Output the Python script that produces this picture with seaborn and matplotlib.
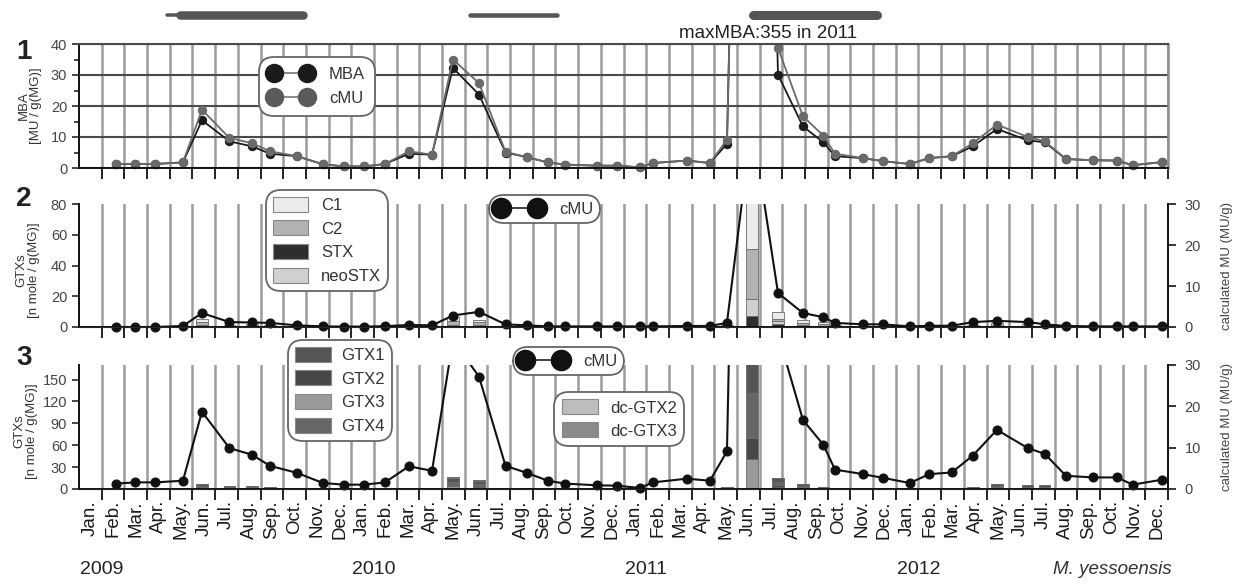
import numpy as np
import seaborn as sns
import matplotlib.pyplot as plt
from matplotlib.lines import Line2D
from matplotlib.patches import Patch
from matplotlib.transforms import Bbox, TransformedBbox, blended_transform_factory

sns.set_style("ticks")
plt.rcParams["font.family"] = ["Liberation Sans", "DejaVu Sans"]

# sampling dates, in months after 1 Jan 2009
sample_month = [1.62, 2.47, 3.35, 4.58, 5.42, 6.63, 7.62, 8.42, 9.61, 10.75, 11.68,
                12.56, 13.49, 14.54, 15.56, 16.48, 17.63, 18.80, 19.74, 20.67, 21.42, 22.83, 23.71,
                24.72, 25.30, 26.80, 27.81, 28.56, 29.66, 30.81, 31.91, 32.81, 33.32, 34.55, 35.43,
                36.62, 37.48, 38.47, 39.40, 40.46, 41.82, 42.57, 43.50, 44.69, 45.75, 46.45, 47.73]

# panel 1: mouse bioassay and calculated MU (MU / g)
mba = [1.3, 1.3, 1.3, 1.8, 15.4, 8.6, 7.0, 4.6, 3.8, 1.2, 0.5,
       0.5, 1.3, 4.6, 4.3, 32.3, 23.7, 5.0, 3.5, 1.8, 1.1, 0.75, 0.75,
       0.2, 1.6, 2.4, 1.6, 7.8, 355, 30.1, 13.4, 8.3, 3.8, 3.2, 2.2,
       1.3, 3.2, 3.8, 7.0, 12.6, 8.9, 8.3, 2.9, 2.5, 2.4, 0.9, 1.9]
cmu_all = [1.3, 1.3, 1.3, 1.8, 18.8, 9.7, 8.0, 5.4, 3.8, 1.2, 0.5,
           0.5, 1.3, 5.4, 4.3, 35.0, 27.4, 5.2, 3.5, 1.8, 1.1, 0.75, 0.75,
           0.2, 1.6, 2.4, 1.6, 9.1, 340, 38.7, 16.7, 10.4, 4.6, 3.2, 2.2,
           1.3, 3.2, 3.8, 8.0, 14.0, 10.0, 8.6, 2.9, 2.5, 2.4, 0.9, 1.9]

# panel 2: C toxins / STX group (n mole / g) and their calculated MU
cmu_stx = [0.0, 0.0, 0.0, 0.25, 3.4, 1.2, 1.1, 1.0, 0.4, 0.15, 0.1,
           0.1, 0.2, 0.5, 0.4, 2.8, 3.7, 0.65, 0.4, 0.15, 0.15, 0.15, 0.15,
           0.15, 0.15, 0.25, 0.25, 1.0, 50, 8.3, 3.4, 2.4, 1.0, 0.65, 0.65,
           0.15, 0.3, 0.3, 1.2, 1.5, 1.2, 0.65, 0.25, 0.15, 0.15, 0.15, 0.15]
c1 = [0.1, 0.1, 0.1, 0.2, 2.4, 0.6, 0.9, 0.7, 0.3, 0.1, 0.1,
      0.1, 0.1, 0.3, 0.3, 2.8, 1.8, 0.4, 0.2, 0.1, 0.1, 0.1, 0.1,
      0.1, 0.1, 0.1, 0.1, 0.6, 35.0, 4.5, 2.0, 1.8, 0.6, 0.4, 0.4,
      0.1, 0.2, 0.2, 0.6, 1.2, 0.8, 0.5, 0.2, 0.1, 0.1, 0.1, 0.1]
c2 = [0, 0, 0, 0.1, 1.8, 0.4, 0.6, 0.5, 0.2, 0, 0,
      0, 0, 0.2, 0.2, 2.4, 2.0, 0.3, 0.1, 0, 0, 0, 0,
      0, 0, 0, 0, 0.4, 32.5, 1.5, 0.9, 0.8, 0.3, 0.2, 0.2,
      0, 0.1, 0.1, 0.4, 0.8, 0.5, 0.3, 0.1, 0, 0, 0, 0]
stx = [0, 0, 0, 0, 0.3, 0.1, 0.1, 0.1, 0, 0, 0,
       0, 0, 0, 0, 0.3, 0.3, 0, 0, 0, 0, 0, 0,
       0, 0, 0, 0, 0.1, 7.0, 2.0, 0.5, 0.3, 0.1, 0, 0,
       0, 0, 0, 0.1, 0.2, 0.1, 0, 0, 0, 0, 0, 0]
neostx = [0, 0, 0, 0, 0.9, 0.2, 0.3, 0.2, 0.1, 0, 0,
          0, 0, 0.1, 0.1, 1.0, 0.7, 0.1, 0, 0, 0, 0, 0,
          0, 0, 0, 0, 0.3, 11.5, 2.0, 1.0, 0.6, 0.2, 0.1, 0.1,
          0, 0, 0, 0.2, 0.4, 0.3, 0.1, 0, 0, 0, 0, 0]

# panel 3: gonyautoxins (n mole / g) and their calculated MU
cmu_gtx = [1.3, 1.6, 1.6, 2.0, 18.7, 9.9, 8.3, 5.6, 3.9, 1.45, 1.05,
           1.05, 1.6, 5.5, 4.4, 36, 27.2, 5.6, 3.9, 2.0, 1.3, 0.9, 0.8,
           0.25, 1.6, 2.5, 2.0, 9.1, 300, 37.5, 16.7, 10.7, 4.7, 3.6, 2.7,
           1.45, 3.6, 4.0, 8.1, 14.3, 9.9, 8.5, 3.2, 2.8, 2.8, 1.05, 2.25]
gtx1 = [0.2, 0.2, 0.2, 0.3, 2.5, 1.8, 1.5, 1.3, 0.6, 0.4, 0.2,
        0.2, 0.2, 0.6, 0.5, 6.0, 4.5, 0.6, 0.4, 0.2, 0.1, 0.1, 0.1,
        0.1, 0.1, 0.2, 0.2, 1.3, 45.0, 5.5, 2.8, 1.1, 0.6, 0.3, 0.3,
        0.1, 0.3, 0.4, 1.3, 2.6, 1.9, 1.9, 0.6, 0.3, 0.2, 0.1, 0.2]
gtx2 = [0.1, 0.1, 0.1, 0.1, 1.0, 0.8, 0.6, 0.6, 0.2, 0.2, 0.1,
        0.1, 0.1, 0.3, 0.2, 2.5, 2.0, 0.3, 0.2, 0.1, 0, 0, 0,
        0, 0, 0.1, 0.1, 0.6, 29.0, 2.5, 1.2, 0.5, 0.3, 0.1, 0.1,
        0, 0.1, 0.2, 0.6, 1.2, 0.8, 0.8, 0.3, 0.1, 0.1, 0, 0.1]
gtx3 = [0.1, 0.1, 0.1, 0.2, 1.5, 1.1, 0.9, 0.8, 0.3, 0.2, 0.1,
        0.1, 0.1, 0.3, 0.3, 3.5, 2.6, 0.3, 0.2, 0.1, 0.1, 0.1, 0.1,
        0.1, 0.1, 0.1, 0.1, 0.8, 41.0, 3.3, 1.6, 0.7, 0.3, 0.2, 0.2,
        0.1, 0.2, 0.2, 0.8, 1.6, 1.1, 1.1, 0.3, 0.2, 0.1, 0.1, 0.1]
gtx4 = [0.1, 0.1, 0.1, 0.2, 1.3, 1.0, 0.8, 0.7, 0.3, 0.2, 0.1,
        0.1, 0.1, 0.3, 0.2, 3.5, 2.5, 0.3, 0.2, 0.1, 0.1, 0.1, 0.1,
        0.1, 0.1, 0.1, 0.1, 0.7, 62.0, 3.2, 1.5, 0.6, 0.3, 0.2, 0.2,
        0.1, 0.2, 0.2, 0.7, 1.4, 1.0, 1.0, 0.3, 0.2, 0.1, 0.1, 0.1]
dcgtx2 = [0, 0, 0, 0, 0.3, 0, 0, 0, 0, 0, 0,
          0, 0, 0, 0, 0.3, 0.2, 0, 0, 0, 0, 0, 0,
          0, 0, 0, 0, 0, 0.5, 0.3, 0.1, 0, 0, 0, 0,
          0, 0, 0, 0, 0.1, 0, 0, 0, 0, 0, 0, 0]
dcgtx3 = [0, 0, 0, 0, 0.2, 0, 0, 0, 0, 0, 0,
          0, 0, 0, 0, 0.2, 0.2, 0, 0, 0, 0, 0, 0,
          0, 0, 0, 0, 0, 0.5, 0.2, 0.1, 0, 0, 0, 0,
          0, 0, 0, 0, 0.1, 0, 0, 0, 0, 0, 0, 0]

month_names = ["Jan.", "Feb.", "Mar.", "Apr.", "May.", "Jun.",
               "Jul.", "Aug.", "Sep.", "Oct.", "Nov.", "Dec."]
years = ["2009", "2010", "2011", "2012"]

# periods marked above panel 1 (start, end month, bar thickness in px)
period_start = [3.88, 4.45, 17.23, 29.7]
period_end = [4.45, 9.87, 21.07, 35.17]
period_px = [3.5, 8.5, 4.5, 9.0]

W, H = 1239, 584
fig = plt.figure(figsize=(W / 100, H / 100), dpi=100)


def px_axes(left, top, right, bottom):
    return fig.add_axes([left / W, 1 - bottom / H, (right - left) / W, (bottom - top) / H])


ax1 = px_axes(79, 44, 1168, 168)
ax2 = px_axes(79, 204, 1168, 327)
ax3 = px_axes(79, 365, 1168, 489)
ax_top = px_axes(79, 4, 1168, 26)

x = np.array(sample_month)
bounds = np.arange(1, 49)
tick_col = "#444444"

for ax in (ax1, ax2, ax3):
    ax.set_xlim(0, 48)
    ax.set_xticks(bounds)
    ax.tick_params(axis="x", which="major", length=8, width=1.4, color="#222222",
                   labelbottom=False, direction="out")
    ax.tick_params(axis="y", which="both", length=5, width=1.2, labelsize=10.5,
                   labelcolor=tick_col, direction="out")
    ax.grid(axis="x", which="major", color="#9c9c9c", lw=1.8)
    ax.set_axisbelow(True)
    for s in ("left", "bottom"):
        ax.spines[s].set_color("#111111")
        ax.spines[s].set_linewidth(1.4)


def loose_clip(ax):
    box = TransformedBbox(Bbox([[0, -0.07], [1, 1]]), ax.transAxes)
    for ln in ax.lines:
        ln.set_clip_path(None)
        ln.set_clip_box(box)


# ---- panel 1
sns.lineplot(x=x, y=mba, ax=ax1, color="#1c1c1c", marker="o", markersize=6,
             markeredgecolor="#1c1c1c", linewidth=1.3, estimator=None, sort=False, legend=False)
sns.lineplot(x=x, y=cmu_all, ax=ax1, color="#6a6a6a", marker="o", markersize=6,
             markeredgecolor="#6a6a6a", linewidth=1.3, estimator=None, sort=False, legend=False)
ax1.set_ylim(0, 40)
ax1.set_yticks([0, 10, 20, 30, 40])
ax1.set_yticks([5, 15, 25, 35], minor=True)
ax1.tick_params(axis="y", which="minor", length=3.5)
ax1.grid(axis="y", which="major", color="#4a4a4a", lw=1.5)
ax1.spines["top"].set_color("#4a4a4a")
ax1.spines["top"].set_linewidth(1.5)
ax1.spines["right"].set_color("#8c8c8c")
ax1.spines["right"].set_linewidth(1.8)
ax1.set_ylabel("MBA\n[MU / g(MG)]", fontsize=9.5, color="#333333", linespacing=1.0, va="center")
ax1.yaxis.set_label_coords(-0.045, 0.5)
loose_clip(ax1)


def stack_bars(ax, layers, colors):
    bottom = np.zeros(len(x))
    for vals, col in zip(layers, colors):
        vals = np.array(vals, dtype=float)
        ax.bar(x, vals, bottom=bottom, width=0.5, color=col, edgecolor="#6a6a6a",
               linewidth=0.6, zorder=2)
        bottom = bottom + vals


c_cols = {"C1": "#ececec", "C2": "#b2b2b2", "STX": "#2e2e2e", "neoSTX": "#d0d0d0"}
g_cols = {"GTX1": "#555555", "GTX2": "#474747", "GTX3": "#9a9a9a", "GTX4": "#666666",
          "dc-GTX2": "#bdbdbd", "dc-GTX3": "#8a8a8a"}

# ---- panel 2
stack_bars(ax2, [stx, neostx, c2, c1],
           [c_cols["STX"], c_cols["neoSTX"], c_cols["C2"], c_cols["C1"]])
ax2.set_ylim(0, 80)
ax2.set_yticks([0, 20, 40, 60, 80])
ax2.spines["top"].set_visible(False)
ax2.spines["right"].set_visible(False)
ax2.set_ylabel("GTXs\n[n mole / g(MG)]", fontsize=9.5, color="#333333", linespacing=1.0, va="center")
ax2.yaxis.set_label_coords(-0.047, 0.46)

# ---- panel 3
stack_bars(ax3, [gtx3, gtx2, gtx4, gtx1, dcgtx2, dcgtx3],
           [g_cols["GTX3"], g_cols["GTX2"], g_cols["GTX4"], g_cols["GTX1"],
            g_cols["dc-GTX2"], g_cols["dc-GTX3"]])
ax3.set_ylim(0, 170)
ax3.set_yticks([0, 30, 60, 90, 120, 150])
ax3.spines["top"].set_visible(False)
ax3.spines["right"].set_visible(False)
ax3.set_ylabel("GTXs\n[n mole / g(MG)]", fontsize=9.5, color="#333333", linespacing=1.0, va="center")
ax3.yaxis.set_label_coords(-0.049, 0.47)
ax3.set_xticks(np.arange(48) + 0.5, minor=True)
ax3.set_xticklabels(month_names * 4, minor=True, rotation=90, fontsize=13.5, color="#1a1a1a")
ax3.tick_params(axis="x", which="minor", length=0, pad=8, labelbottom=True)

# right axes with calculated MU
for ax, cmu in ((ax2, cmu_stx), (ax3, cmu_gtx)):
    axr = ax.twinx()
    sns.lineplot(x=x, y=cmu, ax=axr, color="#111111", marker="o", markersize=6.5,
                 markeredgecolor="#111111", linewidth=1.5, estimator=None, sort=False, legend=False)
    axr.set_ylim(0, 30)
    axr.set_yticks([0, 10, 20, 30])
    axr.tick_params(axis="y", length=6, width=1.3, labelsize=10.5, labelcolor=tick_col, pad=6)
    axr.spines["top"].set_visible(False)
    axr.spines["right"].set_color("#111111")
    axr.spines["right"].set_linewidth(1.4)
    axr.spines["left"].set_visible(False)
    axr.set_ylabel("calculated MU (MU/g)", fontsize=9.5, color="#444444", rotation=90, va="center")
    axr.yaxis.set_label_coords(1.054, 0.5)
    loose_clip(axr)

# ---- period bars above panel 1
for x0, x1, lw in zip(period_start, period_end, period_px):
    ax_top.plot([x0, x1], [0.5, 0.5], color="#555555", lw=lw * 0.72, solid_capstyle="round")
ax_top.set_xlim(0, 48)
ax_top.set_ylim(0, 1)
ax_top.axis("off")

fig.text(679 / W, 1 - 33 / H, "maxMBA:355 in 2011", fontsize=13.5, color="#222222",
         ha="left", va="center")

for lab, ypx in (("1", 52), ("2", 199), ("3", 358)):
    fig.text(16 / W, 1 - ypx / H, lab, fontsize=20, fontweight="bold", color="#222222",
             ha="left", va="center")

yr_tr = blended_transform_factory(ax3.transData, fig.transFigure)
for i, yr in enumerate(years):
    ax3.text(12 * i + 0.05, 1 - 570 / H, yr, transform=yr_tr, fontsize=14, color="#222222",
             ha="left", va="center")
fig.text(1172 / W, 1 - 570 / H, "M. yessoensis", fontsize=13.5, style="italic",
         color="#333333", ha="right", va="center")


# ---- legends
def add_legend(handles, labels, left, top, **kw):
    opts = dict(loc="upper left", bbox_to_anchor=(left / W, 1 - top / H),
                bbox_transform=fig.transFigure, borderaxespad=0, fontsize=12,
                frameon=True, fancybox=True, framealpha=1, edgecolor="#666666")
    opts.update(kw)
    leg = fig.legend(handles, labels, **opts)
    leg.get_frame().set_boxstyle("round,pad=0,rounding_size=0.9")
    leg.get_frame().set_linewidth(1.3)
    for t in leg.get_texts():
        t.set_color("#333333")
    return leg


def dot_handle(col, ms):
    return Line2D([], [], color="#777777", lw=1.2, marker="o", markersize=ms,
                  markerfacecolor=col, markeredgecolor=col)


def box_handle(col):
    return Patch(facecolor=col, edgecolor="#888888", linewidth=0.8)


add_legend([dot_handle("#1a1a1a", 13), dot_handle("#5a5a5a", 13)], ["MBA", "cMU"],
           259, 57, numpoints=2, handlelength=2.6, handletextpad=1.0,
           borderpad=0.6, labelspacing=0.55)

add_legend([box_handle(c_cols[k]) for k in ("C1", "C2", "STX", "neoSTX")],
           ["C1", "C2", "STX", "neoSTX"], 266, 190, handlelength=2.1, handleheight=1.0,
           handletextpad=0.8, borderpad=0.4, labelspacing=0.45)

add_legend([Line2D([], [], color="#222222", lw=1.2, marker="o", markersize=14.5,
                   markerfacecolor="#111111", markeredgecolor="#111111")], ["cMU"],
           489, 195, numpoints=2, handlelength=2.8, handletextpad=1.0,
           borderpad=0.4)

add_legend([box_handle(g_cols[k]) for k in ("GTX1", "GTX2", "GTX3", "GTX4")],
           ["GTX1", "GTX2", "GTX3", "GTX4"], 288, 340, handlelength=2.2, handleheight=1.0,
           handletextpad=0.6, borderpad=0.4, labelspacing=0.45)

add_legend([Line2D([], [], color="#222222", lw=1.2, marker="o", markersize=14.5,
                   markerfacecolor="#111111", markeredgecolor="#111111")], ["cMU"],
           513, 347, numpoints=2, handlelength=2.8, handletextpad=1.0,
           borderpad=0.4)

add_legend([box_handle(g_cols[k]) for k in ("dc-GTX2", "dc-GTX3")],
           ["dc-GTX2", "dc-GTX3"], 554, 392, handlelength=2.2, handleheight=1.0,
           handletextpad=0.7, borderpad=0.45, labelspacing=0.4)

fig.savefig("out.png", dpi=100)
